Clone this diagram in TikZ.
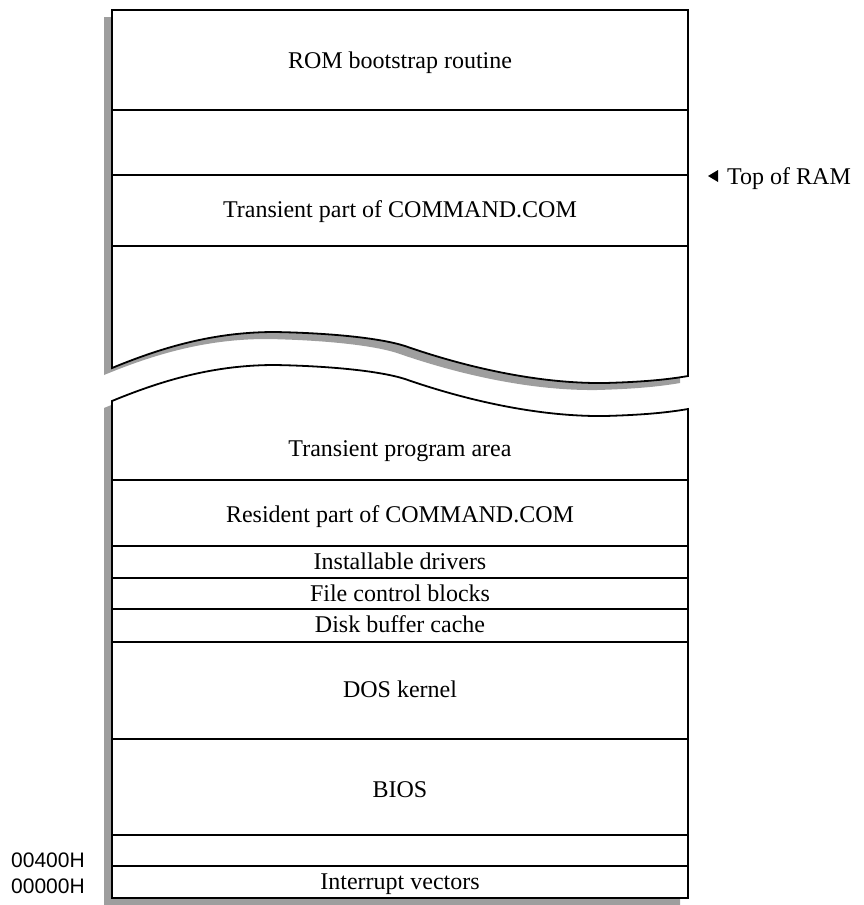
\documentclass[tikz,border=0pt]{standalone}
\usepackage{fontspec}
\setmainfont{Liberation Serif}
\newfontfamily\addrfont{Liberation Sans}

\tikzset{
  memblock/.style={draw, line width=1.8pt, fill=white,
    preaction={fill=black!38, transform canvas={shift={(-8pt,-7pt)}}}},
  divider/.style={line width=1.6pt},
  region/.style={font=\fontsize{24}{28}\selectfont, anchor=base, inner sep=0pt},
  addr/.style={font=\addrfont\fontsize{21}{25}\selectfont, anchor=base west, inner sep=0pt}
}

\begin{document}
\begin{tikzpicture}[x=1pt, y=-1pt]
  \useasboundingbox (0,0) rectangle (863,905);
  % upper part of memory, broken off at the bottom
  \path[memblock] (688,10) -- (112,10) -- (112,368)
    .. controls (170,344) and (220,332) .. (275,332)
    .. controls (330,333) and (380,338) .. (405,346)
    .. controls (445,360) and (525,384) .. (605,383)
    .. controls (640,382) and (665,380) .. (688,376) -- cycle;
  % lower part of memory
  \path[memblock] (112,401)
    .. controls (170,377) and (220,365) .. (275,365)
    .. controls (330,366) and (380,371) .. (405,379)
    .. controls (445,393) and (525,417) .. (605,416)
    .. controls (640,415) and (665,413) .. (688,409)
    -- (688,898) -- (112,898) -- cycle;
  \foreach \y in {110,175,246,480,546,578,609,642,739,835,866}
    \draw[divider] (112,\y) -- (688,\y);

  \node[region] (rom) at (400,68) {ROM bootstrap routine};
  \node[region] (transcmd) at (400,217) {Transient part of COMMAND.COM};
  \node[region] (tpa) at (400,456) {Transient program area};
  \node[region] (rescmd) at (400,522) {Resident part of COMMAND.COM};
  \node[region] (drivers) at (400,569) {Installable drivers};
  \node[region] (fcb) at (400,601) {File control blocks};
  \node[region] (buffers) at (400,632) {Disk buffer cache};
  \node[region] (kernel) at (400,697) {DOS kernel};
  \node[region] (bios) at (400,797) {BIOS};
  \node[region] (vectors) at (400,889) {Interrupt vectors};

  \node[region, anchor=base west] (ram) at (727,184) {Top of RAM};
  \fill (708,176) -- (718,170) -- (718,182) -- cycle;

  \node[addr] (a400) at (11,867) {00400H};
  \node[addr] (a000) at (11,893) {00000H};
\end{tikzpicture}
\end{document}
